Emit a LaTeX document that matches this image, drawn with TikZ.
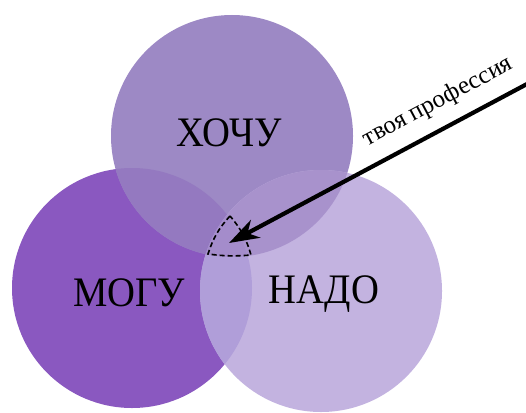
\documentclass[tikz,border=0pt]{standalone}
\usepackage{fontspec}
\setmainfont{Liberation Serif}
\usetikzlibrary{arrows.meta}
\definecolor{cLeft}{HTML}{8A58C0}
\definecolor{cTop}{HTML}{9D89C5}
\definecolor{cRight}{HTML}{C3B3E0}
\definecolor{cTL}{HTML}{9479C0}
\definecolor{cLR}{HTML}{B09ED9}
\definecolor{cTR}{HTML}{A892CC}
\definecolor{cAll}{HTML}{A48CCB}
\tikzset{
  lbl/.style={font=\fontsize{42}{44}\selectfont, text=black, xscale=0.92},
  note/.style={font=\fontsize{25}{27}\selectfont, text=black},
  zone/.style={line width=1.6pt, dash pattern=on 5pt off 3pt}
}
\begin{document}
\begin{tikzpicture}[x=1pt,y=-1pt]
\useasboundingbox (0,0) rectangle (526,412);
\coordinate (cT) at (232,136);
\coordinate (cL) at (132,288);
\coordinate (cR) at (321,291);
\def\rT{121}\def\rL{120}\def\rR{121}
% base circles
\fill[cLeft] (cL) circle (\rL);
\fill[cTop] (cT) circle (\rT);
\fill[cRight] (cR) circle (\rR);
% overlaps
\begin{scope}
  \clip (cT) circle (\rT);
  \fill[cTL] (cL) circle (\rL);
  \fill[cTR] (cR) circle (\rR);
\end{scope}
\begin{scope}
  \clip (cL) circle (\rL);
  \fill[cLR] (cR) circle (\rR);
  \clip (cR) circle (\rR);
  \fill[cAll] (cT) circle (\rT);
\end{scope}
% labels
\node[lbl] (hochu) at (229,133) {ХОЧУ};
\node[lbl] (mogu) at (129,293) {МОГУ};
\node[lbl] (nado) at (324,294) {НАДО};
% dashed zone
\coordinate (zt) at (230,216);
\coordinate (zl) at (208,254);
\coordinate (zr) at (251,255);
\draw[zone] (zt) to[bend right=12] (zl) to[bend right=6] (zr) to[bend right=12] (zt);
% arrow
\coordinate (astart) at (527,84);
\coordinate (atip) at (229,243);
\draw[line width=4.2pt, -{Stealth[length=30pt,width=20pt,inset=9pt]}] (astart) -- (atip);
\node[note, rotate=28, anchor=south] (prof) at (445,115) {твоя профессия};
\end{tikzpicture}
\end{document}
